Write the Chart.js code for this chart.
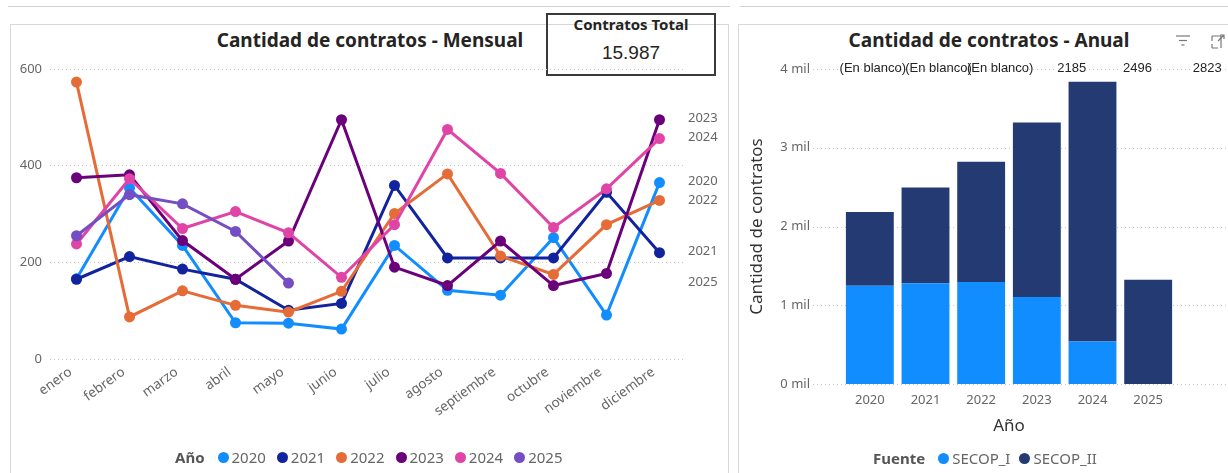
<!DOCTYPE html>
<html lang="es">
<head>
<meta charset="utf-8">
<title>Cantidad de contratos</title>
<script src="https://cdn.jsdelivr.net/npm/chart.js@4.4.1/dist/chart.umd.min.js"></script>
<style>
  body { margin: 0; width: 1228px; height: 473px; background: #fff; position: relative; overflow: hidden;
         font-family: "Noto Sans", "Open Sans", sans-serif; }
  .linea { position: absolute; top: 6px; height: 1px; background: #d2d2d2; }
  .panel { position: absolute; top: 24px; height: 470px; border: 1px solid #d8d8d8; border-bottom: none; }
  .titulo { position: absolute; top: 28px; font-size: 19px; font-weight: 700; color: #252423; text-align: center; line-height: 24px; }
  .tarjeta { position: absolute; left: 546px; top: 13px; width: 166px; height: 59px; border: 2px solid #3a3a3a; text-align: center; color: #252423; }
  .tarjeta .t { font-size: 15px; font-weight: 700; line-height: 18px; margin-top: 0px; }
  .tarjeta .v { font-size: 19px; line-height: 24px; margin-top: 8px; font-family: "Liberation Sans", Arial, sans-serif; }
  canvas { position: absolute; }
  .leyenda { position: absolute; display: flex; align-items: center; font-size: 15px; color: #666; white-space: nowrap; }
  .leyenda b { color: #555; margin-right: 13px; }
  .leyenda span.p { display: inline-block; width: 11px; height: 11px; border-radius: 50%; margin-right: 3px; }
  #leyMensual span.i { margin-right: 11px; }
  #leyAnual span.i { margin-right: 9px; }
</style>
</head>
<body>
<div class="linea" style="left:8px; width:722px;"></div>
<div class="linea" style="left:740px; width:488px;"></div>
<div class="panel" style="left:10px; width:717px;"></div>
<div class="panel" style="left:738px; width:500px;"></div>

<div class="titulo" style="left:10px; width:720px;">Cantidad de contratos - Mensual</div>
<div class="titulo" style="left:738px; width:502px;">Cantidad de contratos - Anual</div>

<div class="tarjeta">
  <div class="t">Contratos Total</div>
  <div class="v" id="total"></div>
</div>

<svg style="position:absolute; left:1174px; top:32px;" width="54" height="18">
  <g stroke="#777" stroke-width="1.2" fill="none">
    <line x1="2" y1="4" x2="16" y2="4"/>
    <line x1="5" y1="8.5" x2="13" y2="8.5"/>
    <line x1="7.5" y1="13" x2="10.5" y2="13"/>
    <path d="M38 4 H47 V16 M38 4 V9 M38 16 H44 M38 12 V16"/>
    <path d="M44 9 L50 3 M46 3 H50 V7"/>
  </g>
</svg>

<canvas id="mensual" width="718" height="449" style="left:10px; top:24px;"></canvas>
<canvas id="anual" width="490" height="449" style="left:738px; top:24px;"></canvas>

<div class="leyenda" id="leyMensual" style="left:175px; top:447px;"><b>Año</b></div>
<div class="leyenda" id="leyAnual" style="left:873px; top:448px;"><b>Fuente</b></div>

<script>
const meses = ['enero', 'febrero', 'marzo', 'abril', 'mayo', 'junio', 'julio', 'agosto',
               'septiembre', 'octubre', 'noviembre', 'diciembre'];
const v2020 = [166, 354, 235, 75, 74, 62, 235, 142, 132, 251, 91, 365];
const v2021 = [165, 212, 186, 165, 101, 115, 359, 209, 209, 209, 345, 220];
const v2022 = [573, 87, 141, 111, 97, 140, 301, 383, 213, 175, 278, 328];
const v2023 = [375, 381, 245, 165, 244, 495, 190, 152, 244, 152, 177, 495];
const v2024 = [238, 373, 270, 305, 261, 169, 278, 475, 384, 272, 352, 456];
const v2025 = [255, 340, 321, 264, 157, null, null, null, null, null, null, null];

const anios = ['2020', '2021', '2022', '2023', '2024', '2025'];
const secopI = [1248, 1280, 1295, 1105, 540, 0];
const secopII = [937, 1216, 1528, 2217, 3298, 1323];
const etiquetasArriba = ['(En blanco)', '(En blanco)', '(En blanco)', '2185', '2496', '2823'];
const ticksMensual = [0, 200, 400, 600];

const total = 15987;
document.getElementById('total').textContent = total.toLocaleString('es-CO');

const fuente = '"Noto Sans", "Open Sans", sans-serif';
const grisTick = '#666';

const series = [
  { label: '2020', data: v2020, color: '#118DFF' },
  { label: '2021', data: v2021, color: '#12239E' },
  { label: '2022', data: v2022, color: '#E66C37' },
  { label: '2023', data: v2023, color: '#6B007B' },
  { label: '2024', data: v2024, color: '#E044A7' },
  { label: '2025', data: v2025, color: '#744EC2' }
];

// etiquetas de año al final de cada linea
const etiquetasFinal = {
  id: 'etiquetasFinal',
  afterDatasetsDraw(chart) {
    const { ctx, chartArea } = chart;
    const items = chart.data.datasets.map((ds, i) => {
      let j = ds.data.length - 1;
      while (j >= 0 && ds.data[j] == null) j--;
      return { text: ds.label, y: chart.getDatasetMeta(i).data[j].y };
    }).sort((a, b) => a.y - b.y);
    for (let k = 1; k < items.length; k++) {
      if (items[k].y < items[k - 1].y + 19) items[k].y = items[k - 1].y + 19;
    }
    ctx.save();
    ctx.font = '13px ' + fuente;
    ctx.fillStyle = grisTick;
    ctx.textBaseline = 'middle';
    items.forEach(it => ctx.fillText(it.text, chartArea.right + 2, it.y - 1));
    ctx.restore();
  }
};

new Chart(document.getElementById('mensual'), {
  type: 'line',
  data: {
    labels: meses,
    datasets: series.map((s, i) => ({
      label: s.label,
      data: s.data,
      order: -i,
      borderColor: s.color,
      backgroundColor: s.color,
      borderWidth: 3,
      pointRadius: 5.5,
      pointBorderWidth: 0,
      tension: 0
    }))
  },
  options: {
    responsive: false,
    animation: false,
    layout: { padding: { left: 0, top: 45, right: 42, bottom: 0 } },
    plugins: { legend: { display: false }, tooltip: { enabled: false } },
    scales: {
      x: {
        offset: true,
        grid: { display: false, drawTicks: false },
        border: { display: false },
        ticks: { autoSkip: false, minRotation: 36, maxRotation: 36, padding: 5, labelOffset: -6, color: grisTick,
                 font: { size: 13.5, family: fuente } },
        afterFit: s => { s.height = 114; }
      },
      y: {
        min: 0, max: 600,
        afterBuildTicks: s => { s.ticks = ticksMensual.map(v => ({ value: v })); },
        grid: { color: '#c8c8c8', drawTicks: false, lineWidth: 1 },
        border: { display: false, dash: [1, 3] },
        ticks: { padding: 8, color: grisTick, font: { size: 13, family: fuente } },
        afterFit: s => { s.width = 40; }
      }
    }
  },
  plugins: [etiquetasFinal]
});

// lineas de cuadricula punteadas mas anchas que el area y etiquetas superiores
const extrasAnual = {
  id: 'extrasAnual',
  beforeDatasetsDraw(chart) {
    const { ctx, chartArea, scales: { y } } = chart;
    ctx.save();
    ctx.strokeStyle = '#c8c8c8';
    ctx.setLineDash([1, 3]);
    y.ticks.forEach(t => {
      const py = Math.round(y.getPixelForValue(t.value)) + 0.5;
      ctx.beginPath();
      ctx.moveTo(chartArea.left - 29, py);
      ctx.lineTo(chart.width, py);
      ctx.stroke();
    });
    ctx.restore();
  },
  afterDatasetsDraw(chart) {
    const { ctx, scales: { x, y } } = chart;
    const desplaza = [3, 13, 19, 35, 45, 59];
    ctx.save();
    ctx.font = '13px "Liberation Sans", Arial, sans-serif';
    ctx.textAlign = 'center';
    ctx.textBaseline = 'middle';
    etiquetasArriba.forEach((txt, i) => {
      const px = x.getPixelForValue(i) + desplaza[i];
      const py = y.getPixelForValue(y.max) - 1;
      ctx.fillStyle = '#fff';
      const w = ctx.measureText(txt).width;
      if (i >= 3) ctx.fillRect(px - w / 2 - 2, py - 6, w + 4, 12);
      ctx.fillStyle = '#252423';
      ctx.fillText(txt, px, py);
    });
    ctx.restore();
  }
};

new Chart(document.getElementById('anual'), {
  type: 'bar',
  data: {
    labels: anios,
    datasets: [
      { label: 'SECOP_I', data: secopI, backgroundColor: '#118DFF' },
      { label: 'SECOP_II', data: secopII, backgroundColor: '#233A73' }
    ]
  },
  options: {
    responsive: false,
    animation: false,
    layout: { padding: { left: 0, top: 45, right: 52, bottom: 36 } },
    plugins: { legend: { display: false }, tooltip: { enabled: false } },
    datasets: { bar: { categoryPercentage: 1, barPercentage: 0.86 } },
    scales: {
      x: {
        stacked: true,
        grid: { display: false, drawTicks: false },
        border: { display: false },
        ticks: { padding: 8, color: grisTick, font: { size: 13, family: fuente } },
        title: { display: true, text: 'Año', color: '#333', font: { size: 17, family: fuente },
                 padding: { top: 0, bottom: 1 } },
        afterFit: s => { s.height = 53; }
      },
      y: {
        stacked: true,
        min: 0, max: 4000,
        grid: { display: false, drawTicks: false },
        border: { display: false },
        ticks: { stepSize: 1000, padding: 32, color: grisTick, font: { size: 13, family: fuente },
                 callback: v => (v / 1000) + ' mil' },
        title: { display: true, text: 'Cantidad de contratos', color: '#333', font: { size: 17, family: fuente },
                 padding: { top: 9, bottom: 0 } },
        afterFit: s => { s.width = 104; }
      }
    }
  },
  plugins: [extrasAnual]
});

function leyenda(id, items) {
  const el = document.getElementById(id);
  items.forEach(it => {
    const p = document.createElement('span');
    p.className = 'p';
    p.style.background = it.color;
    const t = document.createElement('span');
    t.className = 'i';
    t.textContent = it.label;
    el.appendChild(p);
    el.appendChild(t);
  });
}
leyenda('leyMensual', series);
leyenda('leyAnual', [{ label: 'SECOP_I', color: '#118DFF' }, { label: 'SECOP_II', color: '#233A73' }]);
</script>
</body>
</html>
